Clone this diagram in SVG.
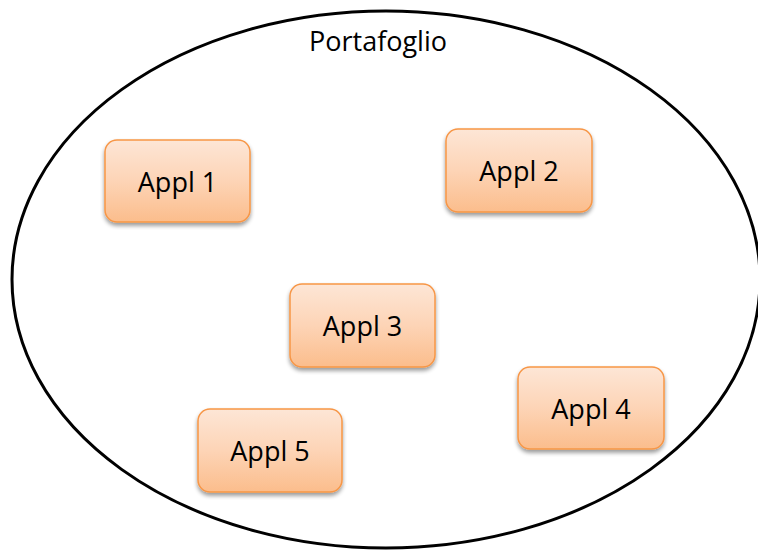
<svg xmlns="http://www.w3.org/2000/svg" width="758" height="550" viewBox="0 0 758 550">
<defs>
<linearGradient id="g" x1="0" y1="0" x2="0" y2="1">
<stop offset="0" stop-color="#fde6d6"/>
<stop offset="0.5" stop-color="#fdd4b6"/>
<stop offset="1" stop-color="#fbbd8c"/>
</linearGradient>
<filter id="sh" x="-20%" y="-20%" width="140%" height="150%">
<feGaussianBlur in="SourceAlpha" stdDeviation="2"/>
<feOffset dx="0" dy="3" result="b"/>
<feComponentTransfer><feFuncA type="linear" slope="0.4"/></feComponentTransfer>
<feMerge><feMergeNode/><feMergeNode in="SourceGraphic"/></feMerge>
</filter>
<style>
.box{fill:url(#g);stroke:#f79646;stroke-width:1.5;filter:url(#sh)}
.t{font-family:"Open Sans","Liberation Sans",sans-serif;font-size:27px;fill:#000;text-anchor:middle}
</style>
</defs>
<rect width="758" height="550" fill="#fff"/>
<g id="portafoglio">
<ellipse cx="386" cy="279.5" rx="374" ry="268.5" fill="none" stroke="#000" stroke-width="3"/>
<text x="378" y="51" class="t" style="font-size:27px">Portafoglio</text>
</g>
<g id="connectors"></g>
<g id="appl1"><rect class="box" x="105" y="140" width="145" height="82" rx="12"/><text class="t" x="177.5" y="192">Appl 1</text></g>
<g id="appl2"><rect class="box" x="446" y="129" width="146" height="83" rx="12"/><text class="t" x="519" y="181">Appl 2</text></g>
<g id="appl3"><rect class="box" x="290" y="284" width="145" height="83" rx="12"/><text class="t" x="362.5" y="336">Appl 3</text></g>
<g id="appl4"><rect class="box" x="518" y="367" width="146" height="82" rx="12"/><text class="t" x="591" y="419">Appl 4</text></g>
<g id="appl5"><rect class="box" x="198" y="409" width="144" height="83" rx="12"/><text class="t" x="270" y="461">Appl 5</text></g>
</svg>
